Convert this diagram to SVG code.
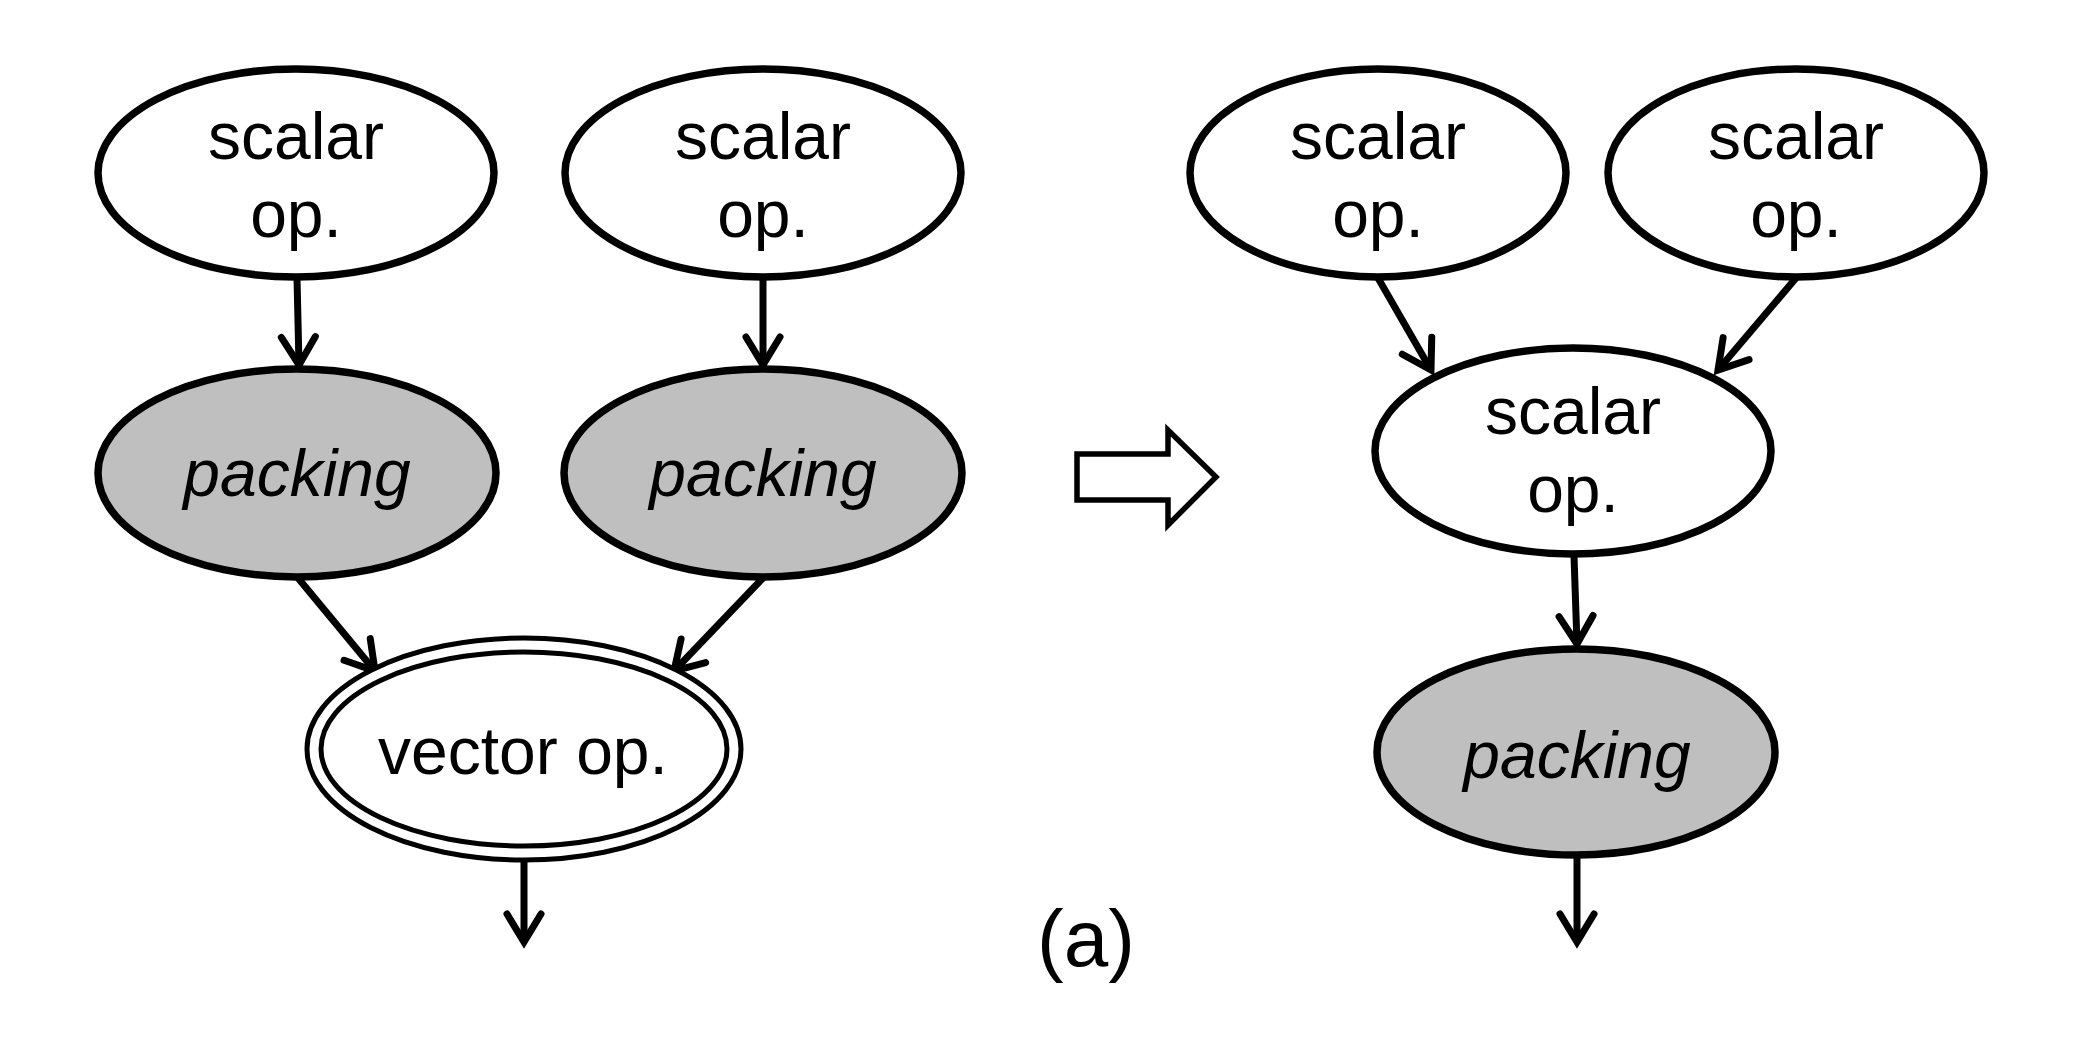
<svg xmlns="http://www.w3.org/2000/svg" width="2078" height="1048" viewBox="0 0 2078 1048">
<style>
.n{fill:#fff;stroke:#000;stroke-width:7.5}
.p{fill:#bfbfbf;stroke:#000;stroke-width:7.5}
.d{fill:#fff;stroke:#000;stroke-width:5}
.t{font-family:"Liberation Sans",Arial,sans-serif;font-size:66px;fill:#000;text-anchor:middle}
.i{font-style:italic}
.e{fill:none;stroke:#000;stroke-width:7;marker-end:url(#ah)}
</style>
<defs>
<marker id="ah" markerUnits="userSpaceOnUse" orient="auto" overflow="visible" refX="0" refY="0" markerWidth="1" markerHeight="1">
<path d="M-28,-17 L0,0 L-28,17" fill="none" stroke="#000" stroke-width="7" stroke-linecap="round"/>
</marker>
</defs>
<rect width="2078" height="1048" fill="#fff"/>
<g id="connectors">
<line class="e" x1="297" y1="278" x2="299" y2="365"/>
<line class="e" x1="763" y1="278" x2="763" y2="365"/>
<line class="e" x1="298" y1="578" x2="375" y2="671"/>
<line class="e" x1="763" y1="578" x2="674" y2="671"/>
<line class="e" x1="524" y1="858" x2="524" y2="942"/>
<line class="e" x1="1378" y1="278" x2="1431" y2="370"/>
<line class="e" x1="1796" y1="278" x2="1718" y2="370"/>
<line class="e" x1="1574" y1="556" x2="1577" y2="644"/>
<line class="e" x1="1577" y1="856" x2="1577" y2="942"/>
</g>
<g id="n1"><ellipse class="n" cx="296" cy="173" rx="198" ry="104"/><text class="t" x="296" y="159">scalar</text><text class="t" x="296" y="237">op.</text></g>
<g id="n2"><ellipse class="n" cx="763" cy="173" rx="198" ry="104"/><text class="t" x="763" y="159">scalar</text><text class="t" x="763" y="237">op.</text></g>
<g id="n3"><ellipse class="p" cx="297" cy="473" rx="199" ry="104"/><text class="t i" x="297" y="496">packing</text></g>
<g id="n4"><ellipse class="p" cx="763" cy="473" rx="199" ry="104"/><text class="t i" x="763" y="496">packing</text></g>
<g id="n5"><ellipse class="d" cx="524" cy="749" rx="217" ry="111"/><ellipse class="d" cx="524" cy="749" rx="203" ry="97"/><text class="t" x="523" y="774">vector op.</text></g>
<g id="n6"><ellipse class="n" cx="1378" cy="173" rx="188" ry="104"/><text class="t" x="1378" y="159">scalar</text><text class="t" x="1378" y="237">op.</text></g>
<g id="n7"><ellipse class="n" cx="1796" cy="173" rx="188" ry="104"/><text class="t" x="1796" y="159">scalar</text><text class="t" x="1796" y="237">op.</text></g>
<g id="n8"><ellipse class="n" cx="1573" cy="451" rx="198" ry="103"/><text class="t" x="1573" y="434">scalar</text><text class="t" x="1573" y="512">op.</text></g>
<g id="n9"><ellipse class="p" cx="1576" cy="752" rx="199" ry="103"/><text class="t i" x="1577" y="778">packing</text></g>
<g id="transform-arrow"><polygon points="1077,454 1168,454 1168,430 1216,477 1168,525 1168,500 1077,500" fill="#fff" stroke="#000" stroke-width="5.5"/></g>
<text class="t" x="1086" y="966" style="font-size:80px">(a)</text>
</svg>
